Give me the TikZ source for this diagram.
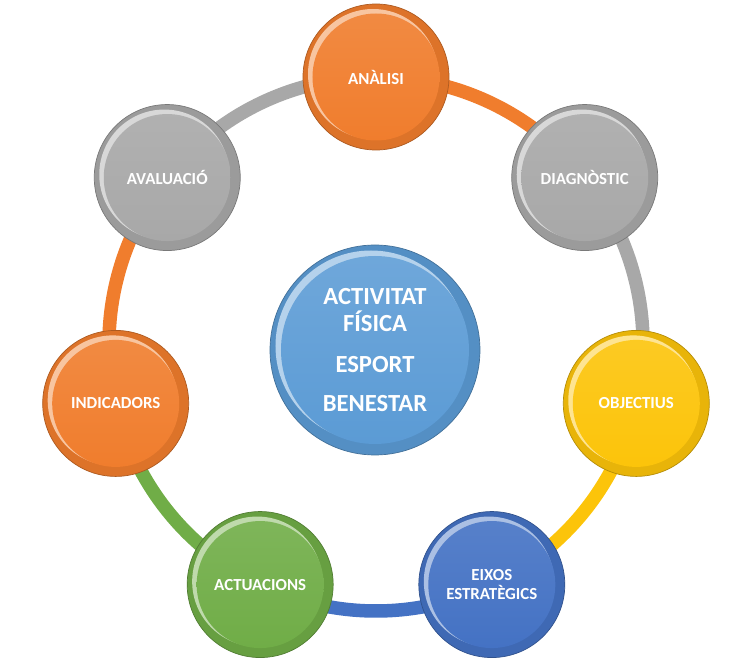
\documentclass[tikz,border=0pt]{standalone}
\usepackage{fontspec}
\setsansfont{Carlito}
\usetikzlibrary{backgrounds}

\definecolor{taronja}{RGB}{240,125,45}
\definecolor{gris}{RGB}{168,168,168}
\definecolor{groc}{RGB}{252,196,10}
\definecolor{blau}{RGB}{68,114,196}
\definecolor{verd}{RGB}{112,173,71}
\definecolor{blaucel}{RGB}{91,155,213}

\begin{document}
\begin{tikzpicture}[
    bola/.style={circle, minimum size=2.92cm, inner sep=0pt, align=center, text=white,
      font=\sffamily\bfseries\fontsize{9.6}{11.2}\selectfont,
      fill=#1!92!black, draw=#1!72!black, line width=0.4pt,
      path picture={
        \fill[#1!45!white] ([xshift=-0.6mm,yshift=0.6mm]path picture bounding box.center) circle (1.3cm);
        \shade[top color=#1!90!white, bottom color=#1] (path picture bounding box.center) circle (1.27cm);
      }},
    centre/.style={circle, minimum size=4.2cm, inner sep=0pt, align=center, text=white,
      font=\sffamily\bfseries\fontsize{14}{15.5}\selectfont,
      fill=blaucel!92!black, draw=blaucel!72!black, line width=0.4pt,
      path picture={
        \fill[blaucel!45!white] ([xshift=-0.8mm,yshift=0.8mm]path picture bounding box.center) circle (1.91cm);
        \shade[top color=blaucel!88!white, bottom color=blaucel] (path picture bounding box.center) circle (1.88cm);
      }},
    anell/.style={line width=0.27cm, bend left=25.7, looseness=0.9}
  ]
    \useasboundingbox (-7.52,-6.34) rectangle (7.36,6.88);

    \node (centre) [centre] at (-0.02,-0.12) {ACTIVITAT\\FÍSICA\\[7.5pt]ESPORT\\[7pt]BENESTAR};

    \node (analisi) [bola=taronja] at (90:5.34) {ANÀLISI};
    \node (diagnostic) [bola=gris] at (38.57:5.34) {DIAGNÒSTIC};
    \node (objectius) [bola=groc] at (-12.86:5.34) {OBJECTIUS};
    \node (eixos) [bola=blau] at (-64.29:5.34) {EIXOS\\ESTRATÈGICS};
    \node (actuacions) [bola=verd] at (-115.71:5.34) {ACTUACIONS};
    \node (indicadors) [bola=taronja] at (-167.14:5.34) {INDICADORS};
    \node (avaluacio) [bola=gris] at (141.43:5.34) {AVALUACIÓ};

    % anell de colors darrere les boles
    \begin{scope}[on background layer]
      \draw[anell, taronja] (analisi.center) to (diagnostic.center);
      \draw[anell, gris] (diagnostic.center) to (objectius.center);
      \draw[anell, groc] (objectius.center) to (eixos.center);
      \draw[anell, blau] (eixos.center) to (actuacions.center);
      \draw[anell, verd] (actuacions.center) to (indicadors.center);
      \draw[anell, taronja] (indicadors.center) to (avaluacio.center);
      \draw[anell, gris] (avaluacio.center) to (analisi.center);
    \end{scope}
  \end{tikzpicture}
\end{document}
